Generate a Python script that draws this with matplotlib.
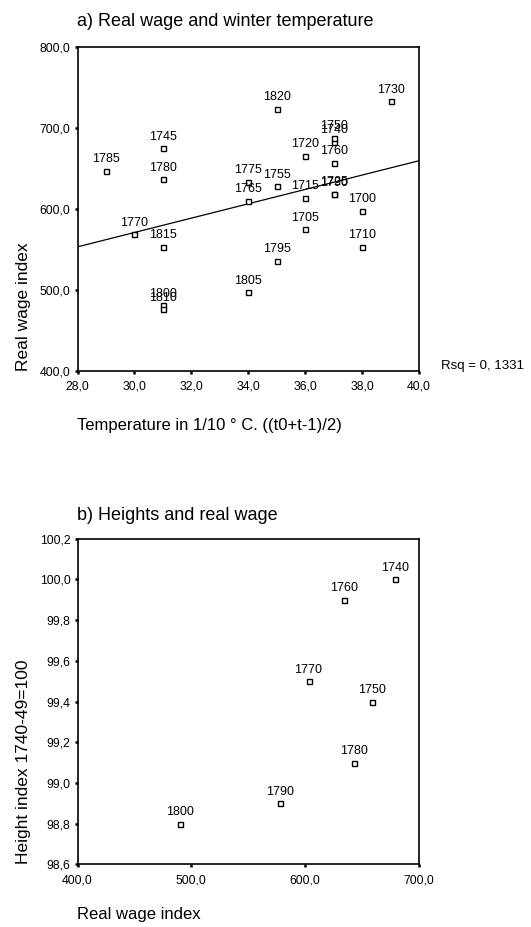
import numpy as np
import matplotlib
matplotlib.use("Agg")
import matplotlib.pyplot as plt
from matplotlib.ticker import FuncFormatter

plt.rcParams["font.family"] = ["Liberation Sans", "DejaVu Sans"]

# a) real wage vs winter temperature
years_a = ["1700", "1705", "1710", "1715", "1720", "1725", "1730", "1740", "1745", "1750",
           "1755", "1760", "1765", "1770", "1775", "1780", "1785", "1790", "1795", "1800",
           "1805", "1810", "1815", "1820"]
temp_a = [38, 36, 38, 36, 36, 37, 39, 37, 31, 37,
          35, 37, 34, 30, 34, 31, 29, 37, 35, 31,
          34, 31, 31, 35]
wage_a = [598, 575, 553, 614, 666, 619, 733, 683, 675, 688,
          628, 657, 610, 569, 634, 637, 647, 618, 536, 481,
          497, 476, 553, 724]
rsq_text = "Rsq = 0, 1331"

# b) heights vs real wage
years_b = ["1740", "1750", "1760", "1770", "1780", "1790", "1800"]
wage_b = [679, 659, 634, 603, 643, 578, 490]
height_b = [100.0, 99.4, 99.9, 99.5, 99.1, 98.9, 98.8]

comma = FuncFormatter(lambda v, _: f"{v:.1f}".replace(".", ","))


def style_axes(ax):
    for s in ax.spines.values():
        s.set_linewidth(1.2)
    ax.tick_params(direction="out", length=2.5, width=1.8, labelsize=8.8,
                   top=False, right=False)
    ax.tick_params(axis="x", pad=4.5)
    ax.tick_params(axis="y", pad=2.5)
    ax.xaxis.set_major_formatter(comma)
    ax.yaxis.set_major_formatter(comma)


def scatter_labels(ax, xs, ys, labels):
    ax.plot(xs, ys, linestyle="none", marker="s", markersize=3.6,
            markerfacecolor="white", markeredgecolor="black", markeredgewidth=1.0,
            zorder=3)
    for x, y, lab in zip(xs, ys, labels):
        ax.annotate(lab, (x, y), xytext=(0, 4), textcoords="offset points",
                    ha="center", va="bottom", fontsize=9)


fig = plt.figure(figsize=(5.31, 9.27), dpi=100)

# --- panel a ---
ax1 = fig.add_axes([0.146, 0.600, 0.643, 0.349])
style_axes(ax1)
coef = np.polyfit(temp_a, wage_a, 1)
xl = np.array([28.0, 40.0])
ax1.plot(xl, np.polyval(coef, xl), color="black", linewidth=0.9, zorder=2)
scatter_labels(ax1, temp_a, wage_a, years_a)
ax1.set_xlim(28, 40)
ax1.set_ylim(400, 800)
ax1.set_xticks(np.arange(28, 41, 2))
ax1.set_yticks(np.arange(400, 801, 100))
fig.text(77 / 531, 1 - 21 / 927, "a) Real wage and winter temperature",
         fontsize=13, ha="left", va="center")
fig.text(77 / 531, 1 - 425 / 927, "Temperature in 1/10 ° C. ((t0+t-1)/2)",
         fontsize=12, ha="left", va="center")
ax1.set_ylabel("Real wage index", fontsize=12.5, loc="bottom", labelpad=6)
fig.text(441 / 531, 1 - 366 / 927, rsq_text, fontsize=9.5, ha="left", va="center")

# --- panel b ---
ax2 = fig.add_axes([0.146, 0.0676, 0.643, 0.3513])
style_axes(ax2)
scatter_labels(ax2, wage_b, height_b, years_b)
ax2.set_xlim(400, 700)
ax2.set_ylim(98.6, 100.2)
ax2.set_xticks(np.arange(400, 701, 100))
ax2.set_yticks(np.arange(98.6, 100.21, 0.2))
fig.text(77 / 531, 1 - 515 / 927, "b) Heights and real wage",
         fontsize=13, ha="left", va="center")
fig.text(77 / 531, 1 - 915 / 927, "Real wage index",
         fontsize=12, ha="left", va="center")
ax2.set_ylabel("Height index 1740-49=100", fontsize=12.5, loc="bottom", labelpad=6)

fig.savefig("out.png", dpi=100)
